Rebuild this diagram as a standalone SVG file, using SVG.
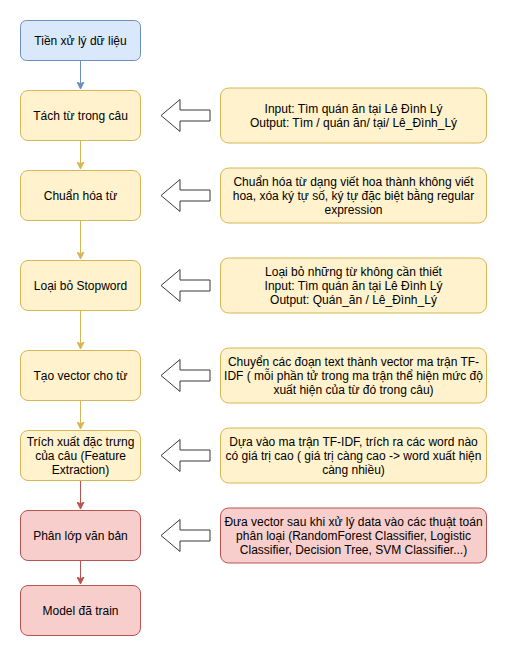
<svg xmlns="http://www.w3.org/2000/svg" width="507" height="656" viewBox="0 0 507 656">
<defs>
<style>
text{font-family:"Liberation Sans",Arial,sans-serif;font-size:12px;fill:#000;text-anchor:middle}
.b{fill:#dae8fc;stroke:#6c8ebf}
.y{fill:#fff2cc;stroke:#d6b656}
.r{fill:#f8cecc;stroke:#b85450}
.ha{fill:#fff;stroke:#36393d;stroke-width:1}
.cb{stroke:#6c8ebf;fill:none}
.cy{stroke:#d6b656;fill:none}
.cr{stroke:#b85450;fill:none}
</style>
<marker id="mb" markerWidth="8" markerHeight="8" refX="7" refY="4" orient="auto" markerUnits="userSpaceOnUse"><path d="M0,0.5L7,4L0,7.5L1.8,4Z" fill="#6c8ebf" stroke="#6c8ebf"/></marker>
<marker id="my" markerWidth="8" markerHeight="8" refX="7" refY="4" orient="auto" markerUnits="userSpaceOnUse"><path d="M0,0.5L7,4L0,7.5L1.8,4Z" fill="#d6b656" stroke="#d6b656"/></marker>
<marker id="mr" markerWidth="8" markerHeight="8" refX="7" refY="4" orient="auto" markerUnits="userSpaceOnUse"><path d="M0,0.5L7,4L0,7.5L1.8,4Z" fill="#b85450" stroke="#b85450"/></marker>
</defs>
<rect width="507" height="656" fill="#fff"/>
<g id="connectors">
<path class="cb" d="M80.5 60.5V89" marker-end="url(#mb)"/>
<path class="cy" d="M80.5 140.5V169" marker-end="url(#my)"/>
<path class="cy" d="M80.5 220.5V259" marker-end="url(#my)"/>
<path class="cy" d="M80.5 310.5V349" marker-end="url(#my)"/>
<path class="cy" d="M80.5 400.5V429" marker-end="url(#my)"/>
<path class="cr" d="M80.5 480.5V509" marker-end="url(#mr)"/>
<path class="cr" d="M80.5 560.5V584" marker-end="url(#mr)"/>
<polygon class="ha" points="210,110 180,110 180,99.5 161,115.5 180,131.5 180,121 210,121"/>
<polygon class="ha" points="210,190 180,190 180,179.5 161,195.5 180,211.5 180,201 210,201"/>
<polygon class="ha" points="210,280 180,280 180,269.5 161,285.5 180,301.5 180,291 210,291"/>
<polygon class="ha" points="210,370 180,370 180,359.5 161,375.5 180,391.5 180,381 210,381"/>
<polygon class="ha" points="210,450 180,450 180,439.5 161,455.5 180,471.5 180,461 210,461"/>
<polygon class="ha" points="210,530 180,530 180,519.5 161,535.5 180,551.5 180,541 210,541"/>
</g>
<g id="n1"><rect class="b" x="20.5" y="20.5" width="120" height="40" rx="6"/><text x="80.5" y="45">Tiền xử lý dữ liệu</text></g>
<g id="n2"><rect class="y" x="20.5" y="90.5" width="120" height="50" rx="7.5"/><text x="80.5" y="120">Tách từ trong câu</text></g>
<g id="n3"><rect class="y" x="20.5" y="170.5" width="120" height="50" rx="7.5"/><text x="80.5" y="200">Chuẩn hóa từ</text></g>
<g id="n4"><rect class="y" x="20.5" y="260.5" width="120" height="50" rx="7.5"/><text x="80.5" y="290">Loại bỏ Stopword</text></g>
<g id="n5"><rect class="y" x="20.5" y="350.5" width="120" height="50" rx="7.5"/><text x="80.5" y="380">Tạo vector cho từ</text></g>
<g id="n6"><rect class="y" x="20.5" y="430.5" width="120" height="50" rx="7.5"/><text x="80.5" y="446">Trích xuất đặc trưng</text><text x="80.5" y="460">của câu (Feature</text><text x="80.5" y="474">Extraction)</text></g>
<g id="n7"><rect class="r" x="20.5" y="510.5" width="120" height="50" rx="7.5"/><text x="80.5" y="540">Phân lớp văn bản</text></g>
<g id="n8"><rect class="r" x="20.5" y="585.5" width="120" height="50" rx="7.5"/><text x="80.5" y="615">Model đã train</text></g>
<g id="d1"><rect class="y" x="220.5" y="88" width="266" height="55" rx="8"/><text x="353.5" y="113">Input: Tìm quán ăn tại Lê Đình Lý</text><text x="353.5" y="127">Output: Tìm / quán ăn/ tại/ Lê_Đình_Lý</text></g>
<g id="d2"><rect class="y" x="220.5" y="168" width="266" height="55" rx="8"/><text x="353.5" y="186">Chuẩn hóa từ dạng viết hoa thành không viết</text><text x="353.5" y="200">hoa, xóa ký tự số, ký tự đặc biệt bằng regular</text><text x="353.5" y="214">expression</text></g>
<g id="d3"><rect class="y" x="220.5" y="258" width="266" height="55" rx="8"/><text x="353.5" y="276">Loại bỏ những từ không cần thiết</text><text x="353.5" y="290">Input: Tìm quán ăn tại Lê Đình Lý</text><text x="353.5" y="304">Output: Quán_ăn / Lê_Đình_Lý</text></g>
<g id="d4"><rect class="y" x="220.5" y="348" width="266" height="55" rx="8"/><text x="353.5" y="366">Chuyển các đoạn text thành vector ma trận TF-</text><text x="353.5" y="380">IDF ( mỗi phần tử trong ma trận thể hiện mức độ</text><text x="353.5" y="394">xuất hiện của từ đó trong câu)</text></g>
<g id="d5"><rect class="y" x="220.5" y="428" width="266" height="55" rx="8"/><text x="353.5" y="446">Dựa vào ma trận TF-IDF, trích ra các word nào</text><text x="353.5" y="460">có giá trị cao ( giá trị càng cao -&gt; word xuất hiện</text><text x="353.5" y="474">càng nhiều)</text></g>
<g id="d6"><rect class="r" x="220.5" y="508" width="266" height="55" rx="8"/><text x="353.5" y="526">Đưa vector sau khi xử lý data vào các thuật toán</text><text x="353.5" y="540">phân loại (RandomForest Classifier, Logistic</text><text x="353.5" y="554">Classifier, Decision Tree, SVM Classifier...)</text></g>
</svg>
